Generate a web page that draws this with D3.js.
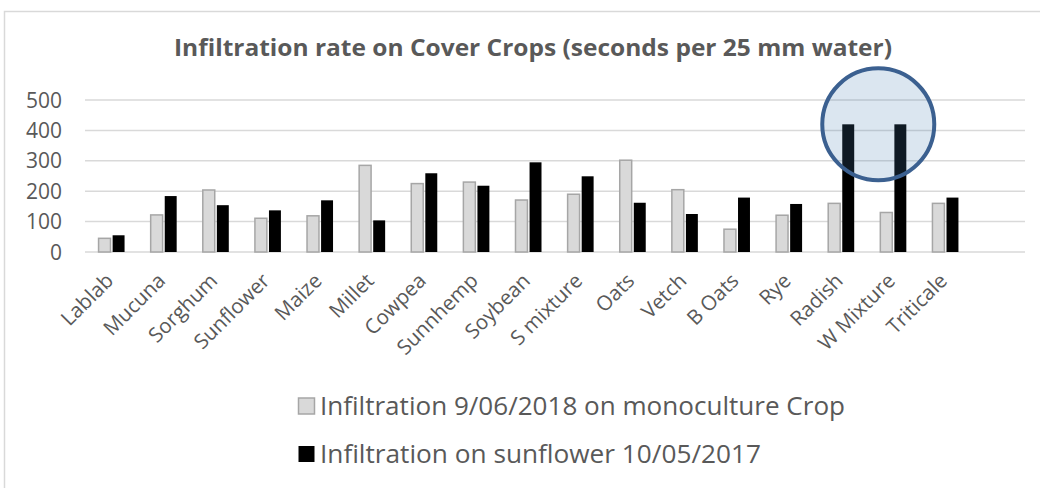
<!DOCTYPE html>
<html>
<head>
<meta charset="utf-8">
<script src="https://cdn.jsdelivr.net/npm/d3@7"></script>
<style>
  body { margin: 0; background: #fff; }
  text { font-family: "Open Sans", sans-serif; fill: #595959; }
</style>
</head>
<body>
<div id="viz"></div>
<script>
// chart data
var crops = ["Lablab", "Mucuna", "Sorghum", "Sunflower", "Maize", "Millet", "Cowpea", "Sunnhemp",
  "Soybean", "S mixture", "Oats", "Vetch", "B Oats", "Rye", "Radish", "W Mixture", "Triticale"];
var mono2018 = [45, 122, 204, 111, 119, 285, 225, 230, 171, 190, 302, 205, 75, 121, 160, 130, 160];
var sunflower2017 = [55, 184, 154, 137, 170, 104, 259, 218, 295, 249, 162, 125, 179, 158, 420, 420, 179];
var seriesNames = ["Infiltration 9/06/2018 on monoculture Crop", "Infiltration on sunflower 10/05/2017"];
var yTicks = [0, 100, 200, 300, 400, 500];

var width = 1040;
var height = 488;

var svg = d3.select('#viz')
  .append('svg')
  .attr('width', width)
  .attr('height', height);

// outer chart border
svg.append('rect')
  .attr('x', 4.5)
  .attr('y', 11.5)
  .attr('width', 1050)
  .attr('height', 500)
  .attr('fill', 'white')
  .attr('stroke', '#d9d9d9')
  .attr('stroke-width', 1.5);

svg.append('text')
  .attr('x', 533)
  .attr('y', 56)
  .attr('text-anchor', 'middle')
  .attr('font-size', 23)
  .attr('font-weight', 'bold')
  .attr('textLength', 718)
  .attr('lengthAdjust', 'spacingAndGlyphs')
  .text('Infiltration rate on Cover Crops (seconds per 25 mm water)');

const xScale = d3.scaleBand()
  .domain(crops)
  .range([86.5, 972.5]);

const yScale = d3.scaleLinear()
  .domain([0, 500])
  .range([252, 100]);

const x1 = d3.scaleBand()
  .domain([0, 1])
  .range([xScale.bandwidth() / 2 - 14, xScale.bandwidth() / 2 + 12])
  .paddingInner(0.15);

// gridlines
svg.append('g')
  .selectAll('line')
  .data(yTicks)
  .join('line')
  .attr('x1', 85)
  .attr('x2', 1025)
  .attr('y1', d => yScale(d))
  .attr('y2', d => yScale(d))
  .attr('stroke', '#d9d9d9')
  .attr('stroke-width', 1.5);

svg.append('g')
  .selectAll('text')
  .data(yTicks)
  .join('text')
  .attr('x', 62)
  .attr('y', d => yScale(d))
  .attr('dy', '0.36em')
  .attr('text-anchor', 'end')
  .attr('font-size', 21)
  .text(d => d);

var rows = crops.map((c, i) => ({crop: c, values: [mono2018[i], sunflower2017[i]]}));

var groups = svg.append('g')
  .selectAll('g')
  .data(rows)
  .join('g')
  .attr('transform', d => `translate(${xScale(d.crop)},0)`);

groups.selectAll('rect')
  .data(d => d.values.map((v, k) => ({k: k, v: v})))
  .join('rect')
  .attr('x', d => x1(d.k))
  .attr('width', x1.bandwidth())
  .attr('y', d => yScale(d.v))
  .attr('height', d => yScale(0) - yScale(d.v))
  .attr('fill', d => d.k === 0 ? '#d9d9d9' : '#000')
  .attr('stroke', d => d.k === 0 ? '#a6a6a6' : 'none')
  .attr('stroke-width', 1.5);

// category labels
svg.append('g')
  .selectAll('text')
  .data(crops)
  .join('text')
  .attr('transform', d => `translate(${xScale(d) + xScale.bandwidth() / 2 + 2},282) rotate(-45)`)
  .attr('text-anchor', 'end')
  .attr('font-size', 20.5)
  .text(d => d);

// highlight circle on Radish / W Mixture
var cx = (xScale('Radish') + xScale('W Mixture')) / 2 + xScale.bandwidth() / 2 + 10;
svg.append('circle')
  .attr('cx', cx)
  .attr('cy', yScale(420))
  .attr('r', 56)
  .attr('fill', 'rgba(75,130,180,0.2)')
  .attr('stroke', '#3b6090')
  .attr('stroke-width', 4);

// legend
var legend = svg.append('g')
  .selectAll('g')
  .data(seriesNames)
  .join('g')
  .attr('transform', (d, i) => `translate(298,${406 + i * 48})`);

legend.append('rect')
  .attr('x', 0.5)
  .attr('y', -8)
  .attr('width', 16)
  .attr('height', 16)
  .attr('fill', (d, i) => i === 0 ? '#d9d9d9' : '#000')
  .attr('stroke', (d, i) => i === 0 ? '#a6a6a6' : 'none')
  .attr('stroke-width', 1.5);

legend.append('text')
  .attr('x', 22)
  .attr('y', 0)
  .attr('dy', '0.36em')
  .attr('font-size', 25.5)
  .attr('textLength', d => d.length > 40 ? 525 : 441)
  .attr('lengthAdjust', 'spacingAndGlyphs')
  .text(d => d);
</script>
</body>
</html>
